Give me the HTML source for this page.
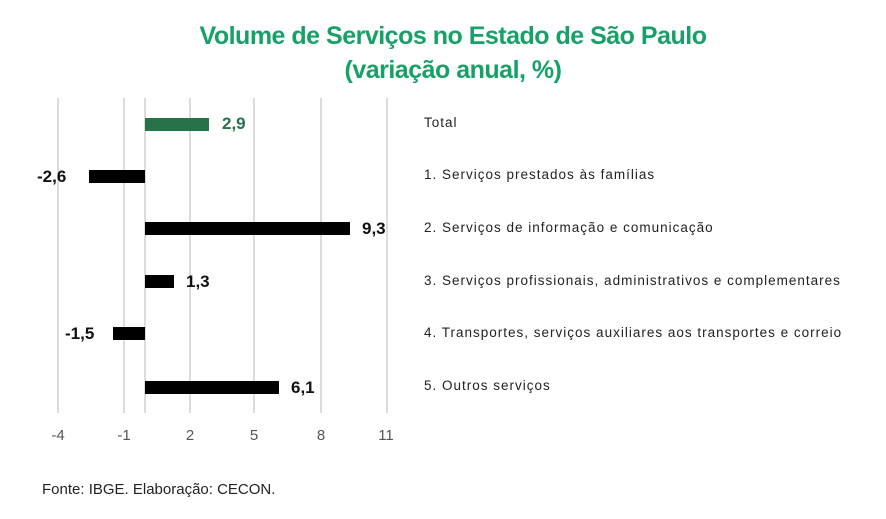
<!DOCTYPE html>
<html><head><meta charset="utf-8"><style>
body{margin:0;background:#fff;width:886px;height:519px;overflow:hidden;position:relative;font-family:"Liberation Sans",sans-serif}
.t{position:absolute;left:0;width:906px;text-align:center;color:#17a068;font-weight:bold;font-size:25px;letter-spacing:-0.5px}
.g{position:absolute;top:98px;height:315px;width:2px;background:#dcdcdc}
.b{position:absolute;height:13px;background:#000}
.v{position:absolute;font-weight:bold;font-size:17px;color:#111}
.k{position:absolute;top:427px;font-size:15px;color:#555;width:40px;text-align:center}
.c{position:absolute;left:424px;font-size:13.5px;color:#222;letter-spacing:1px;white-space:nowrap}
</style></head><body>
<div class="t" style="top:22px">Volume de Serviços no Estado de São Paulo</div>
<div class="t" style="top:56px">(variação anual, %)</div>
<div class="g" style="left:57px"></div><div class="g" style="left:123px"></div><div class="g" style="left:144px"></div><div class="g" style="left:189px"></div><div class="g" style="left:253px"></div><div class="g" style="left:320px"></div><div class="g" style="left:386px"></div>
<div class="b" style="left:145px;width:64px;top:118px;background:#26734a"></div>
<div class="v" style="left:222px;top:114px;color:#26734a">2,9</div>
<div class="b" style="left:89px;width:56px;top:170px"></div>
<div class="v" style="left:37px;top:167px">-2,6</div>
<div class="b" style="left:145px;width:205px;top:222px"></div>
<div class="v" style="left:362px;top:219px">9,3</div>
<div class="b" style="left:145px;width:29px;top:275px"></div>
<div class="v" style="left:186px;top:272px">1,3</div>
<div class="b" style="left:113px;width:32px;top:327px"></div>
<div class="v" style="left:65px;top:324px">-1,5</div>
<div class="b" style="left:145px;width:134px;top:381px"></div>
<div class="v" style="left:291px;top:378px">6,1</div>
<div class="k" style="left:38px">-4</div><div class="k" style="left:104px">-1</div><div class="k" style="left:170px">2</div><div class="k" style="left:234px">5</div><div class="k" style="left:301px">8</div><div class="k" style="left:366px">11</div>
<div class="c" style="top:115px">Total</div>
<div class="c" style="top:167px">1. Serviços prestados às famílias</div>
<div class="c" style="top:220px">2. Serviços de informação e comunicação</div>
<div class="c" style="top:273px">3. Serviços profissionais, administrativos e complementares</div>
<div class="c" style="top:325px">4. Transportes, serviços auxiliares aos transportes e correio</div>
<div class="c" style="top:378px">5. Outros serviços</div>
<div style="position:absolute;left:42px;top:481px;font-size:15px;color:#222">Fonte: IBGE. Elaboração: CECON.</div>
</body></html>
